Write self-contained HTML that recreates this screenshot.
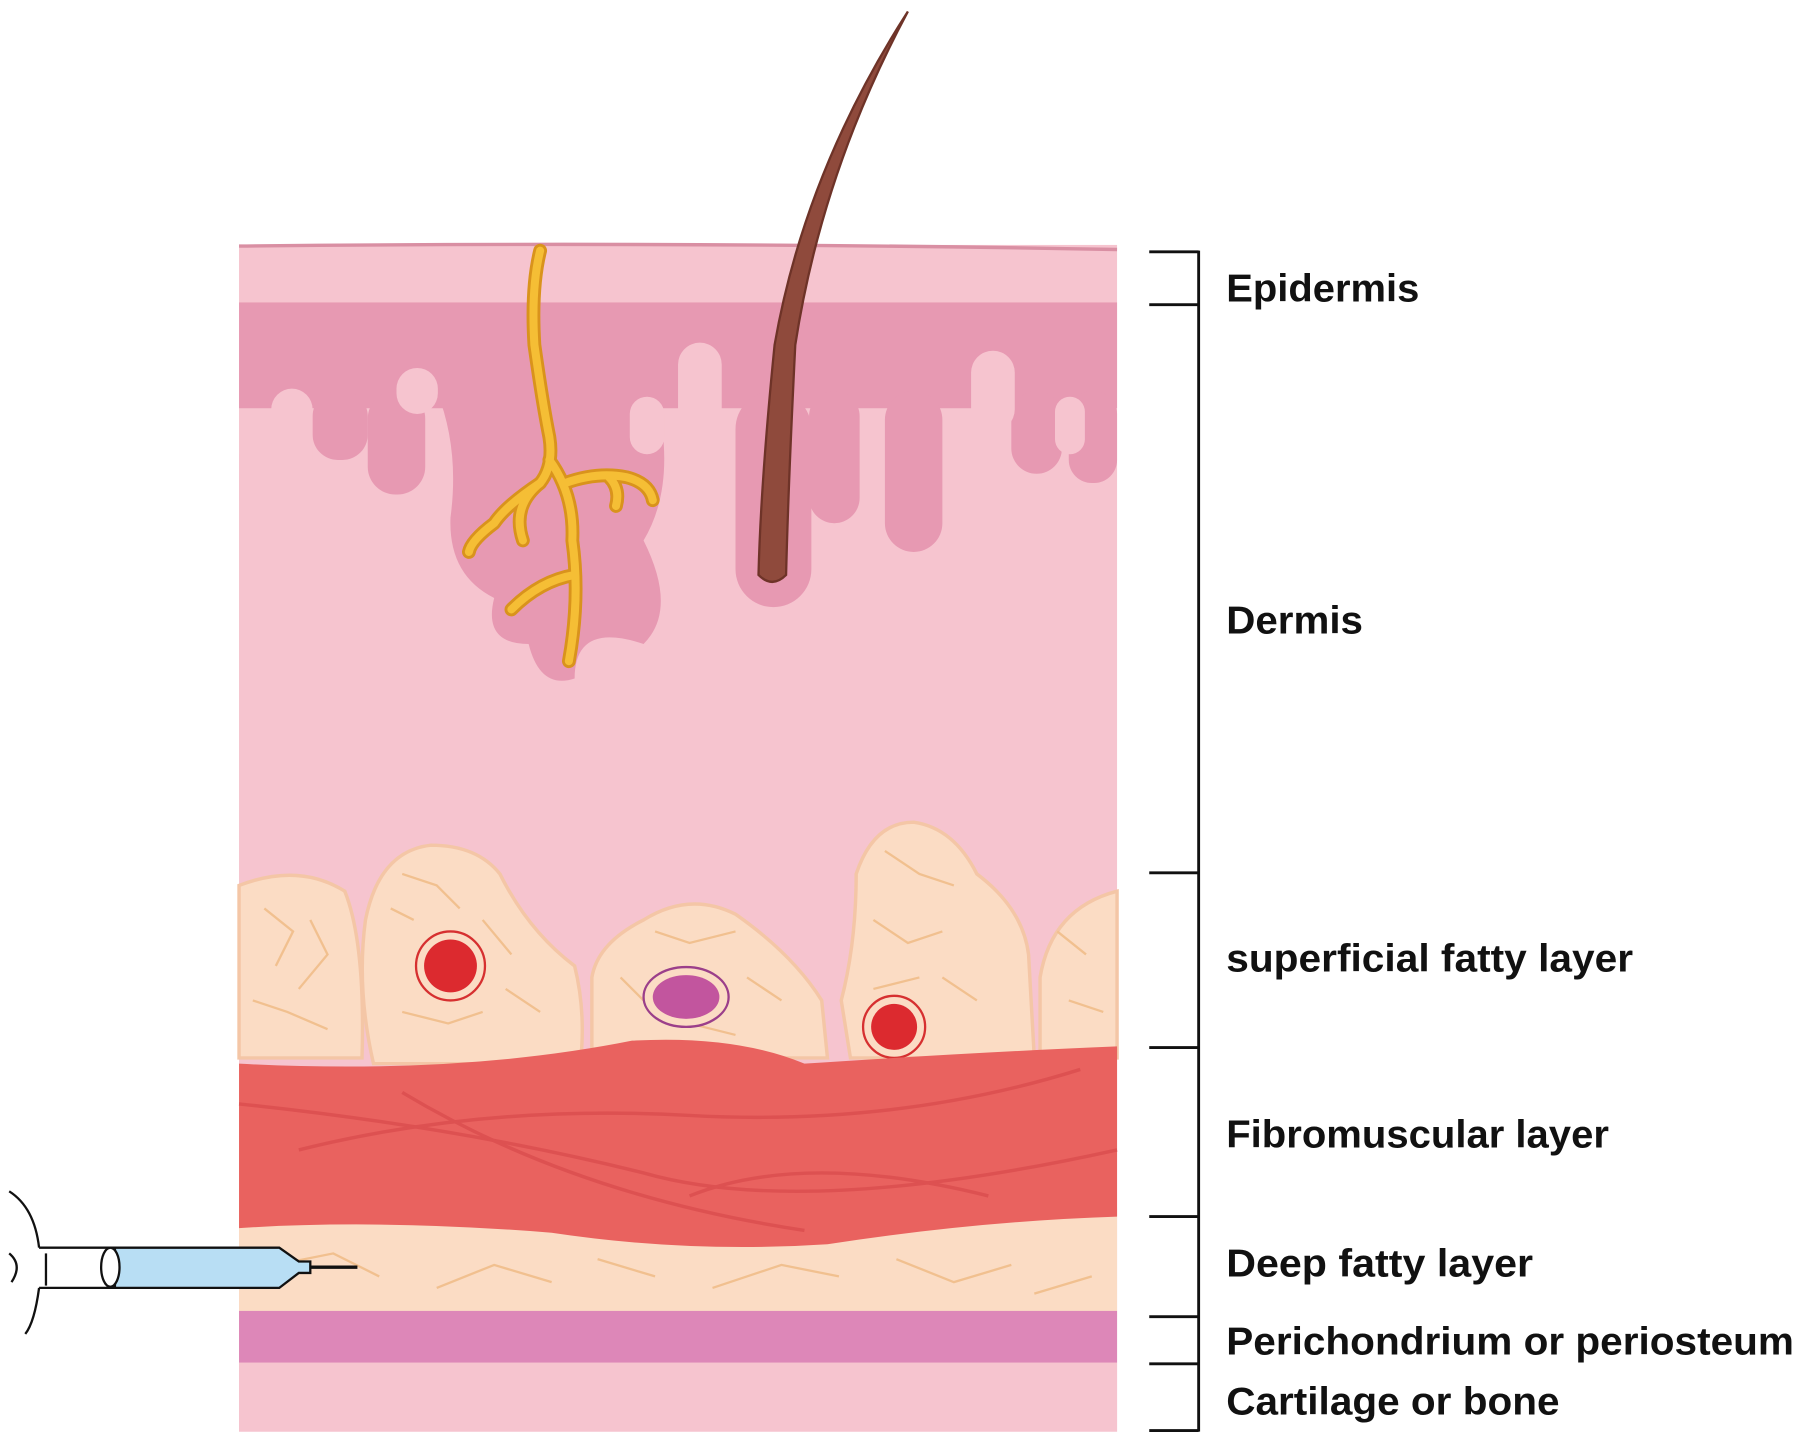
<!DOCTYPE html>
<html><head><style>
html,body{margin:0;padding:0;background:#fff;}
svg{display:block;}
text{font-family:"Liberation Sans",sans-serif;font-weight:bold;font-size:34px;fill:#111;}
</style></head><body>
<svg width="1802" height="1442" viewBox="0 0 1568 1254" preserveAspectRatio="none" xmlns="http://www.w3.org/2000/svg">
<rect width="1568" height="1254" fill="#fff"/>
<rect x="208" y="213" width="764" height="1032" fill="#f6c4cf"/>
<path d="M208 214 Q600 210 972 217" stroke="#d98fa3" stroke-width="3" fill="none"/>
<g fill="#e799b2">
<rect x="208" y="263" width="764" height="92"/>
<rect x="272" y="340" width="48" height="60" rx="22"/>
<rect x="320" y="340" width="50" height="90" rx="24"/>
<path d="M380 340 L570 340 Q590 420 560 470 Q590 530 560 560 Q500 540 500 590 Q470 600 460 560 Q420 560 430 520 Q390 500 392 450 Q400 390 380 340Z"/>
<rect x="640" y="340" width="66" height="188" rx="33"/>
<rect x="704" y="340" width="44" height="115" rx="22"/>
<rect x="770" y="340" width="50" height="140" rx="25"/>
<rect x="880" y="340" width="44" height="72" rx="22"/>
<rect x="930" y="340" width="42" height="80" rx="20"/>
</g>
<g fill="#f6c4cf">
<rect x="236" y="338" width="36" height="80" rx="18"/>
<rect x="345" y="320" width="36" height="40" rx="18"/>
<rect x="548" y="345" width="30" height="50" rx="15"/>
<rect x="590" y="298" width="38" height="110" rx="19"/>
<rect x="845" y="305" width="38" height="70" rx="19"/>
<rect x="918" y="345" width="26" height="50" rx="13"/>
<rect x="208" y="395" width="60" height="40" />
</g>
<g fill="none" stroke-linecap="round" stroke-linejoin="round">
<g stroke="#d9931c" stroke-width="12">
<path d="M470 218 Q462 250 465 300 Q472 350 478 380 Q482 405 470 420 Q440 440 430 455 Q410 470 408 480"/>
<path d="M470 420 Q445 440 455 470"/>
<path d="M478 400 Q500 430 498 470 Q505 520 495 575"/>
<path d="M492 420 Q520 410 545 415 Q565 420 568 435"/>
<path d="M530 415 Q540 425 536 440"/>
<path d="M500 500 Q470 505 445 530"/>
</g>
<g stroke="#f5be35" stroke-width="7">
<path d="M470 218 Q462 250 465 300 Q472 350 478 380 Q482 405 470 420 Q440 440 430 455 Q410 470 408 480"/>
<path d="M470 420 Q445 440 455 470"/>
<path d="M478 400 Q500 430 498 470 Q505 520 495 575"/>
<path d="M492 420 Q520 410 545 415 Q565 420 568 435"/>
<path d="M530 415 Q540 425 536 440"/>
<path d="M500 500 Q470 505 445 530"/>
</g>
</g>
<path d="M790 10 Q700 150 674 300 Q662 420 660 500 Q672 512 684 500 Q686 420 692 300 Q715 150 790 10Z" fill="#8f4a3c" stroke="#6e3328" stroke-width="2"/>
<g fill="#fbdcc4" stroke="#f4c6a6" stroke-width="3">
<path d="M208 770 Q260 750 300 775 Q318 820 315 920 L208 920Z"/>
<path d="M318 800 Q330 740 375 735 Q415 735 435 760 Q460 810 500 840 Q510 880 505 925 L325 925 Q310 860 318 800Z"/>
<path d="M515 850 Q520 820 560 800 Q600 775 640 795 Q690 830 715 870 L720 920 L515 920Z"/>
<path d="M732 870 Q745 820 745 760 Q760 715 795 715 Q830 720 850 760 Q890 790 895 830 L900 920 L740 920Z"/>
<path d="M905 850 Q915 790 972 775 L972 920 L905 920Z"/>
</g>
<g fill="none" stroke="#f1c08f" stroke-width="2">
<path d="M230 790 L255 810 L240 840 M270 800 L285 830 L260 860 M220 870 L250 880 L285 895"/>
<path d="M350 760 L380 770 L400 790 M340 790 L360 800 M420 800 L445 830 M350 880 L390 890 L420 880 M440 860 L470 880"/>
<path d="M570 810 L600 820 L640 810 M540 850 L560 870 M650 850 L680 870 M600 890 L640 900"/>
<path d="M770 740 L800 760 L830 770 M760 800 L790 820 L820 810 M820 850 L850 870 M760 860 L800 850"/>
<path d="M920 810 L945 830 M930 870 L960 880"/>
</g>
<circle cx="392" cy="840" r="30" fill="#fbdcc4" stroke="#d63030" stroke-width="2"/>
<circle cx="392" cy="840" r="23" fill="#dc2a2f"/>
<ellipse cx="597" cy="867" rx="37" ry="26" fill="#fbdcc4" stroke="#9b3f8a" stroke-width="2"/>
<ellipse cx="597" cy="867" rx="29" ry="19" fill="#c2559e"/>
<circle cx="778" cy="893" r="27" fill="#fbdcc4" stroke="#d63030" stroke-width="2"/>
<circle cx="778" cy="893" r="20" fill="#dc2a2f"/>
<rect x="208" y="1050" width="764" height="95" fill="#fbdcc4"/>
<g fill="none" stroke="#f1c08f" stroke-width="2">
<path d="M240 1100 L290 1090 L330 1110 M380 1120 L430 1100 L480 1115 M520 1095 L570 1110 M620 1120 L680 1100 L730 1110 M780 1095 L830 1115 L880 1100 M900 1125 L950 1110"/>
</g>
<path d="M208 925 Q400 935 550 905 Q640 900 700 925 Q850 915 972 910 L972 1058 Q850 1062 720 1082 Q600 1090 480 1072 Q330 1060 208 1068Z" fill="#e9625f"/>
<g fill="none" stroke="#d94a4c" stroke-width="3" opacity="0.7">
<path d="M208 960 Q400 980 560 1020 Q700 1060 972 1000"/>
<path d="M260 1000 Q420 960 600 970 Q780 980 940 930"/>
<path d="M350 950 Q500 1040 700 1070"/>
<path d="M600 1040 Q700 1000 860 1040"/>
</g>
<rect x="208" y="1140" width="764" height="45" fill="#dd87b8"/>
<rect x="208" y="1185" width="764" height="60" fill="#f6c4cf"/>
<g stroke="#111" stroke-width="2" fill="none">
<path d="M8 1036 Q30 1050 34 1085 M34 1120 Q30 1150 22 1160"/>
<path d="M8 1090 Q20 1100 10 1115"/>
<path d="M34 1085 L100 1085 L100 1120 L34 1120"/>
<line x1="40" y1="1090" x2="40" y2="1118"/>
</g>
<path d="M100 1085 L243 1085 L260 1097 L270 1097 L270 1107 L260 1107 L243 1120 L100 1120Z" fill="#b8def4" stroke="#111" stroke-width="2"/>
<ellipse cx="96" cy="1102" rx="8" ry="17" fill="#fff" stroke="#111" stroke-width="2"/>
<line x1="270" y1="1102" x2="311" y2="1102" stroke="#111" stroke-width="3"/>
<g stroke="#111" stroke-width="2.5">
<line x1="1043" y1="218" x2="1043" y2="1245"/>
<line x1="1000" y1="219" x2="1043" y2="219"/>
<line x1="1000" y1="265" x2="1043" y2="265"/>
<line x1="1000" y1="759" x2="1043" y2="759"/>
<line x1="1000" y1="911" x2="1043" y2="911"/>
<line x1="1000" y1="1058" x2="1043" y2="1058"/>
<line x1="1000" y1="1145" x2="1043" y2="1145"/>
<line x1="1000" y1="1186" x2="1043" y2="1186"/>
<line x1="1000" y1="1244" x2="1043" y2="1244"/>
</g>
<text x="1067" y="262" textLength="168" lengthAdjust="spacingAndGlyphs">Epidermis</text>
<text x="1067" y="551" textLength="119" lengthAdjust="spacingAndGlyphs">Dermis</text>
<text x="1067" y="845" textLength="354" lengthAdjust="spacingAndGlyphs">superficial fatty layer</text>
<text x="1067" y="998" textLength="333" lengthAdjust="spacingAndGlyphs">Fibromuscular layer</text>
<text x="1067" y="1110" textLength="267" lengthAdjust="spacingAndGlyphs">Deep fatty layer</text>
<text x="1067" y="1178" textLength="494" lengthAdjust="spacingAndGlyphs">Perichondrium or periosteum</text>
<text x="1067" y="1230" textLength="290" lengthAdjust="spacingAndGlyphs">Cartilage or bone</text>
</svg>
</body></html>
